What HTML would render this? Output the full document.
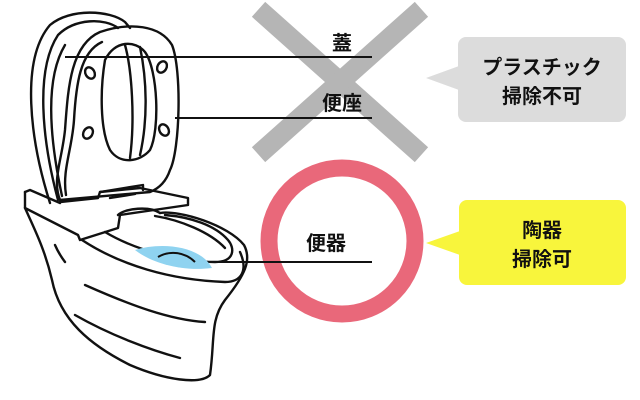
<!DOCTYPE html>
<html><head><meta charset="utf-8"><style>
html,body{margin:0;padding:0;background:#fff}
svg{display:block}
text{font-family:"Liberation Sans","Noto Sans CJK JP",sans-serif;fill:#111;font-weight:bold}
</style></head><body>
<svg width="640" height="400" viewBox="0 0 640 400">
<g stroke="#b5b5b5" stroke-width="20" stroke-linecap="square">
<line x1="266" y1="16" x2="414" y2="148"/>
<line x1="414" y1="16" x2="266" y2="148"/>
</g>
<circle cx="342" cy="241" r="73" fill="none" stroke="#e9687a" stroke-width="17"/>
<g fill="none" stroke="#111" stroke-width="2.4" stroke-linejoin="round" stroke-linecap="round">
<path d="M50,203 C30,140 20,60 50,25 C70,8 110,10 125,22 L130,28"/>
<path d="M58,200 C42,140 35,70 58,35 C75,18 105,18 118,28"/>
<path d="M62,196 C50,140 44,80 65,45"/>
<path d="M60,200 C52,180 62,160 65,130 C68,90 70,45 100,32 C130,22 160,25 172,45 C182,70 180,150 170,170 C165,185 155,190 150,192 L60,200"/>
<path d="M66,195 C62,170 72,150 74,120 C76,85 80,52 102,42"/>
<path d="M105,60 C100,90 100,130 110,150 C120,165 140,162 150,150 C160,130 158,70 145,52 C135,40 115,40 105,60 Z"/>
<path d="M125,45 C132,70 135,120 130,158"/>
<path d="M140,47 C147,80 148,120 140,155"/>
<ellipse cx="90" cy="73" rx="4.5" ry="6" transform="rotate(-30 90 73)"/>
<ellipse cx="162" cy="67" rx="4.5" ry="6" transform="rotate(30 162 67)"/>
<ellipse cx="88" cy="133" rx="4.5" ry="6" transform="rotate(30 88 133)"/>
<ellipse cx="164" cy="130" rx="4.5" ry="6" transform="rotate(-30 164 130)"/>
<path d="M25,192 L25,208 L78,235 L80,240 L118,228 L120,215 L188,205 L188,198 L140,188 L100,192 L98,198 L60,202"/>
<path d="M25,192 L30,190 L60,203"/>
<path d="M100,192 L143,185 L143,190"/>
<path d="M110,198 L135,194"/>
<path d="M118,215 C125,208 150,206 160,213"/>
<path d="M25,208 C35,230 45,250 52,280 C60,320 90,345 130,365 C165,380 200,385 210,375 C215,340 210,320 225,300 C245,275 252,260 244,245 C228,225 180,210 160,213"/>
<path d="M82,240 C120,265 170,280 225,282 C242,282 248,270 240,252"/>
<path d="M105,232 C135,250 180,262 215,262 C235,262 235,248 228,240 C215,225 190,217 165,215"/>
<path d="M155,216 C180,220 210,232 225,248"/>
<path d="M55,245 C58,252 62,258 65,262"/>
<path d="M85,285 C130,305 170,320 205,322"/>
<path d="M75,315 C110,335 150,350 180,358"/>
</g>
<path d="M135,250 C160,242 200,245 212,268 C180,272 150,262 135,250 Z" fill="#8fd3f0"/>
<path d="M158,257 C170,250 185,252 195,262" fill="none" stroke="#111" stroke-width="2"/>
<g stroke="#111" stroke-width="2">
<line x1="65" y1="57" x2="372" y2="57"/>
<line x1="175" y1="118" x2="372" y2="118"/>
<line x1="212" y1="262" x2="372" y2="262"/>
</g>
<text x="342" y="50" font-size="20" text-anchor="middle">蓋</text>
<text x="342" y="110" font-size="20" text-anchor="middle">便座</text>
<text x="326" y="250" font-size="20" text-anchor="middle">便器</text>
<path d="M426,78 L459,66 L459,90 Z" fill="#dcdcdc"/>
<rect x="458" y="37" width="168" height="85" rx="8" fill="#dcdcdc"/>
<text x="542" y="74" font-size="20" text-anchor="middle">プラスチック</text>
<text x="542" y="103" font-size="20" text-anchor="middle">掃除不可</text>
<path d="M426,243 L460,231 L460,255 Z" fill="#f8f53c"/>
<rect x="459" y="200" width="167" height="85" rx="8" fill="#f8f53c"/>
<text x="542" y="237" font-size="20" text-anchor="middle">陶器</text>
<text x="542" y="266" font-size="20" text-anchor="middle">掃除可</text>
</svg>
</body></html>
